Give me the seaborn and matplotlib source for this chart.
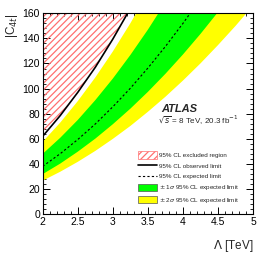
import numpy as np
import pandas as pd
import matplotlib
matplotlib.use("Agg")
import matplotlib.pyplot as plt
import seaborn as sns
from matplotlib.patches import Patch
from matplotlib.lines import Line2D
from matplotlib.ticker import MultipleLocator, AutoMinorLocator, FormatStrFormatter

# ------------------------------------------------------------
# DATA
# ------------------------------------------------------------
lam = [2.0, 2.25, 2.5, 2.75, 3.0, 3.25, 3.5, 3.75, 4.0, 4.25, 4.5, 4.75, 5.0]
observed = [62, 78.5, 97, 117, 139.5, 164, 190, 218, 248, 280, 314, 350, 388]
expected = [38, 48.1, 59.4, 71.8, 85.5, 100.3, 116.4, 133.6, 152, 171.6, 192.4, 214.3, 237.5]
plus_1s = [48, 60.8, 75, 90.8, 108, 126.8, 147, 168.8, 192, 216.8, 243, 270.8, 300]
minus_1s = [31.8, 40.2, 49.7, 60.1, 71.6, 84.0, 97.4, 111.8, 127.2, 143.6, 161.0, 179.4, 198.8]
plus_2s = [57.6, 72.9, 90, 108.9, 129.6, 152.1, 176.4, 202.5, 230.4, 260.1, 291.6, 324.9, 360]
minus_2s = [26.6, 33.7, 41.6, 50.3, 59.9, 70.2, 81.5, 93.5, 106.4, 120.1, 134.7, 150.0, 166.3]

df = pd.DataFrame({
    "lam": lam, "obs": observed, "exp": expected,
    "p1": plus_1s, "m1": minus_1s, "p2": plus_2s, "m2": minus_2s,
})

# ------------------------------------------------------------
# STYLE
# ------------------------------------------------------------
sns.set_theme(style="ticks")
plt.rcParams["font.family"] = ["Liberation Sans", "DejaVu Sans"]
plt.rcParams["hatch.linewidth"] = 0.9

HATCH_COL = "#ff7070"
GREEN = "#00ff00"
YELLOW = "#ffff00"

fig = plt.figure(figsize=(2.67, 2.56), dpi=100)
ax = fig.add_axes([0.16, 0.164, 0.788, 0.784])

# bands
ax.fill_between(df["lam"], df["m2"], df["p2"], color=YELLOW, lw=0)
ax.fill_between(df["lam"], df["m1"], df["p1"], color=GREEN, lw=0)

# excluded region
ax.fill_between(df["lam"], df["obs"], 400, facecolor="none",
                edgecolor=HATCH_COL, hatch="/////", lw=0)

sns.lineplot(data=df, x="lam", y="exp", color="black", lw=0.8,
             linestyle=(0, (2, 2)), ax=ax)
sns.lineplot(data=df, x="lam", y="obs", color="black", lw=1.2, ax=ax)

ax.set_xlim(2, 5)
ax.set_ylim(0, 160)

ax.xaxis.set_major_locator(MultipleLocator(0.5))
ax.xaxis.set_minor_locator(MultipleLocator(0.1))
ax.xaxis.set_major_formatter(FormatStrFormatter("%g"))
ax.yaxis.set_major_locator(MultipleLocator(20))
ax.yaxis.set_minor_locator(AutoMinorLocator(5))
ax.tick_params(which="both", direction="in", top=True, right=True,
               labelsize=7.5, colors="black", pad=2)
ax.tick_params(which="major", length=5, width=0.7)
ax.tick_params(which="minor", length=2.5, width=0.6)
for s in ax.spines.values():
    s.set_linewidth(0.8)
    s.set_color("black")

ax.set_xlabel(r"$\Lambda$ [TeV]", fontsize=8.5, loc="right", labelpad=8)
ax.set_ylabel(r"|C$_{4t}$|", fontsize=8.5, loc="top", labelpad=2)

# labels
ax.text(0.565, 0.507, "ATLAS", transform=ax.transAxes, fontsize=8,
        fontweight="bold", fontstyle="italic")
ax.text(0.55, 0.448, r"$\sqrt{s}$ = 8 TeV, 20.3 fb$^{-1}$",
        transform=ax.transAxes, fontsize=5.8)

handles = [
    Patch(facecolor="white", edgecolor=HATCH_COL, hatch="/////", lw=0.5),
    Line2D([], [], color="black", lw=1.2),
    Line2D([], [], color="black", lw=0.8, linestyle=(0, (2, 2))),
    Patch(facecolor=GREEN, edgecolor="#555555", lw=0.5),
    Patch(facecolor=YELLOW, edgecolor="#555555", lw=0.5),
]
labels = [
    "95% CL excluded region",
    "95% CL observed limit",
    "95% CL expected limit",
    r"$\pm$ 1$\sigma$ 95% CL expected limit",
    r"$\pm$ 2$\sigma$ 95% CL expected limit",
]
ax.legend(handles, labels, loc="lower left", bbox_to_anchor=(0.44, 0.03),
          frameon=False, fontsize=4.5, handlelength=3.0, handleheight=1.4,
          handletextpad=0.35, labelspacing=0.55, borderpad=0)

fig.savefig("out.png", dpi=100)
